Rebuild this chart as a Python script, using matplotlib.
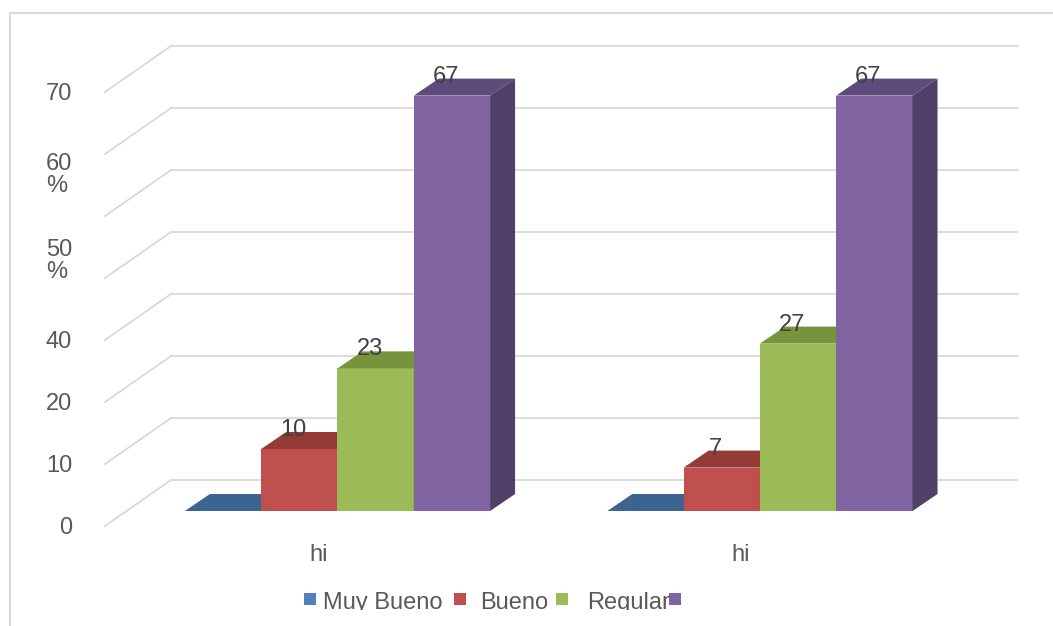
import matplotlib.pyplot as plt
from matplotlib.patches import Polygon, Rectangle
from matplotlib.lines import Line2D
from matplotlib.transforms import Bbox, TransformedBbox

plt.rcParams['font.family'] = ['Liberation Sans', 'DejaVu Sans']

# datos
grupos = ["hi", "hi"]
series = ["Muy Bueno", "Bueno", "Regular", ""]
valores = [[0, 10, 23, 67],
           [0, 7, 27, 67]]
marcas_y = ["0", "10", "20", "40", "50\n%", "60\n%", "70"]
pos_marcas_y = [0, 10, 20, 30, 43, 57, 70]

# colores de cada cara (frente, tapa, lado)
color_frente = ["#4F81BD", "#C0504D", "#9BBB59", "#8064A2"]
color_tapa = ["#3D6491", "#943B38", "#77933C", "#5F4B7B"]
color_lado = ["#345580", "#7F3230", "#657E33", "#503F69"]
gris_rejilla = "#D9D9D9"
gris_texto = "#595959"
tam = 17

W, H = 1053, 626
fig = plt.figure(figsize=(W / 100, H / 100), dpi=100)

# plano frontal de las barras
ax = fig.add_axes([125 / W, (H - 511) / H, 847 / W, 434 / H])
x0, x1 = -0.503, 1.502
ax.set_xlim(x0, x1)
ax.set_ylim(0, 70)
ax.axis('off')

# unidades de datos por pixel
px = (x1 - x0) / 847
py = 70 / 434

# pared del fondo y lineas de la rejilla
for v in range(0, 71, 10):
    ax.plot([x0 + 46 * px, x1 + 46 * px], [v + 31 * py] * 2,
            color=gris_rejilla, lw=1.3, clip_on=False, zorder=1)
    ax.plot([x0 - 20 * px, x0 + 46 * px], [v - 15 * py, v + 31 * py],
            color=gris_rejilla, lw=1.3, clip_on=False, zorder=1)

# barras 3D
ancho = 0.1806
dx, dy = 25 * px, 17 * py
for g, vals in enumerate(valores):
    for s, v in enumerate(vals):
        izq = g - 2 * ancho + s * ancho
        der = izq + ancho
        ax.add_patch(Rectangle((izq, 0), ancho, v, fc=color_frente[s],
                               ec='none', clip_on=False, zorder=2))
        ax.add_patch(Polygon([(izq, v), (der, v), (der + dx, v + dy), (izq + dx, v + dy)],
                             closed=True, fc=color_tapa[s], ec='none',
                             clip_on=False, zorder=2))
        ax.add_patch(Polygon([(der, 0), (der + dx, dy), (der + dx, v + dy), (der, v)],
                             closed=True, fc=color_lado[s], ec='none',
                             clip_on=False, zorder=2))
        if v > 0:
            ax.text(izq + ancho / 2 - 6 * px, v + 19 * py, f"{v}", ha='center',
                    va='center', fontsize=tam, color='#404040', zorder=3)

# etiquetas del eje y
for lab, p in zip(marcas_y, pos_marcas_y):
    ax.text(x0 - 53 * px, p - 17 * py, lab, ha='right', va='center',
            multialignment='left', linespacing=1.0, fontsize=tam, color=gris_texto)

# etiquetas de categoria
for g, lab in enumerate(grupos):
    ax.text(g - 19 * px, -50 * py, lab, ha='center', va='baseline',
            fontsize=tam, color=gris_texto)

# borde del grafico
fig.add_artist(Line2D([10 / W, 10 / W, 1], [0, 1 - 13 / H, 1 - 13 / H],
                      transform=fig.transFigure, color=gris_rejilla, lw=1.5))

# leyenda
recorte = TransformedBbox(Bbox([[0, 16 / H], [1, 1]]), fig.transFigure)
x_cuadro = [304, 454, 556, 669]
x_texto = [323, 480, 587, 690]
for i, nombre in enumerate(series):
    fig.add_artist(Rectangle((x_cuadro[i] / W, (H - 605) / H), 12 / W, 12 / H,
                             transform=fig.transFigure, fc=color_frente[i], ec='none'))
    t = fig.text(x_texto[i] / W, (H - 609) / H, nombre, ha='left', va='baseline',
                 fontsize=tam, color=gris_texto)
    t.set_clip_box(recorte)
    t.set_clip_on(True)

fig.savefig("out.png", dpi=100)
